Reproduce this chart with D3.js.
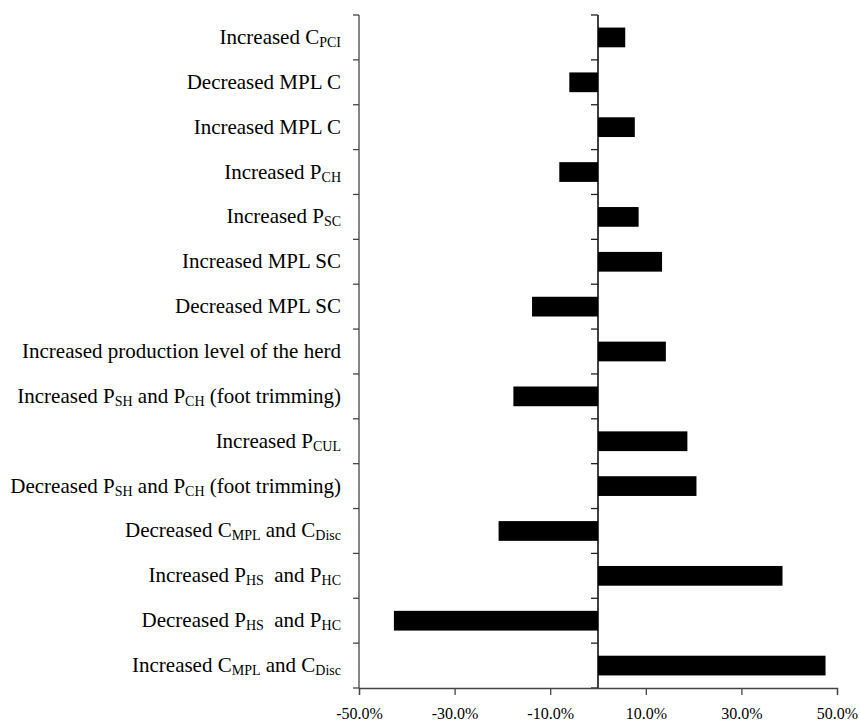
<!DOCTYPE html>
<html>
<head>
<meta charset="utf-8">
<script src="https://cdn.jsdelivr.net/npm/d3@7"></script>
<style>
  body { margin: 0; background: #fff; }
  text { white-space: pre; }
</style>
</head>
<body>
<div id="chart"></div>
<script>
// labels use _{...} for subscripts
const categories = [
  "Increased C_{PCI}",
  "Decreased MPL C",
  "Increased MPL C",
  "Increased P_{CH}",
  "Increased P_{SC}",
  "Increased MPL SC",
  "Decreased MPL SC",
  "Increased production level of the herd",
  "Increased P_{SH} and P_{CH} (foot trimming)",
  "Increased P_{CUL}",
  "Decreased P_{SH} and P_{CH} (foot trimming)",
  "Decreased C_{MPL} and C_{Disc}",
  "Increased P_{HS}  and P_{HC}",
  "Decreased P_{HS}  and P_{HC}",
  "Increased C_{MPL} and C_{Disc}"
];
const values = [5.7, -6.0, 7.7, -8.1, 8.5, 13.4, -13.8, 14.2, -17.7, 18.7, 20.6, -20.8, 38.6, -42.7, 47.6];
const xTicks = [-50, -30, -10, 10, 30, 50];

const FONT = "Liberation Serif, DejaVu Serif, serif";
const width = 860, height = 721;
const margin = { top: 15, right: 23, bottom: 33, left: 359 };

const svg = d3.select("#chart").append("svg")
  .attr("width", width).attr("height", height)
  .style("display", "block");

const x = d3.scaleLinear().domain([-50, 50]).range([margin.left, width - margin.right]);
const y = d3.scaleBand().domain(categories).range([margin.top, height - margin.bottom]).padding(0);
const barH = y.bandwidth() * 0.44;
const boundaries = d3.range(categories.length + 1).map((i) => margin.top + i * y.step());

// bars
svg.append("g")
  .selectAll("rect")
  .data(values)
  .join("rect")
  .attr("x", (v) => x(Math.min(0, v)))
  .attr("y", (v, i) => y(categories[i]) + (y.bandwidth() - barH) / 2)
  .attr("width", (v) => Math.abs(x(v) - x(0)))
  .attr("height", barH)
  .attr("fill", "#000");

// left axis with ticks at band boundaries
const left = svg.append("g");
left.append("line")
  .attr("x1", margin.left).attr("x2", margin.left)
  .attr("y1", boundaries[0]).attr("y2", boundaries[boundaries.length - 1])
  .attr("stroke", "#444").attr("stroke-width", 1.3);
left.selectAll(".tk").data(boundaries).join("line")
  .attr("x1", margin.left - 6).attr("x2", margin.left)
  .attr("y1", (d) => d).attr("y2", (d) => d)
  .attr("stroke", "#444").attr("stroke-width", 1.3);

// zero axis
const zero = svg.append("g");
zero.append("line")
  .attr("x1", x(0)).attr("x2", x(0))
  .attr("y1", boundaries[0]).attr("y2", boundaries[boundaries.length - 1])
  .attr("stroke", "#000").attr("stroke-width", 1.5);
zero.selectAll(".tk").data(boundaries).join("line")
  .attr("x1", x(0) - 7).attr("x2", x(0))
  .attr("y1", (d) => d).attr("y2", (d) => d)
  .attr("stroke", "#222").attr("stroke-width", 1.3);

// bottom axis
const bottom = svg.append("g")
  .attr("transform", `translate(0,${height - margin.bottom})`)
  .call(d3.axisBottom(x).tickValues(xTicks).tickSize(7).tickPadding(13)
    .tickFormat((d) => d.toFixed(1) + "%"));
bottom.attr("font-family", FONT).attr("font-size", 16);
bottom.select(".domain").attr("stroke", "#444").attr("stroke-width", 1.3);
bottom.selectAll(".tick line").attr("stroke", "#444").attr("stroke-width", 1.3);
bottom.selectAll(".tick text")
  .attr("fill", "#000")
  .attr("font-family", FONT)
  .attr("font-size", 16);

// category labels with subscripts
const labels = svg.append("g")
  .attr("font-family", FONT)
  .attr("font-size", 21)
  .attr("text-anchor", "end");
categories.forEach((c) => {
  const t = labels.append("text")
    .attr("x", margin.left - 18)
    .attr("y", y(c) + y.bandwidth() / 2 + 6.5)
    .attr("font-family", FONT)
    .attr("font-size", 21);
  const parts = c.split(/(_\{[^}]*\})/).filter((p) => p.length);
  let shifted = false;
  parts.forEach((p) => {
    if (p.startsWith("_{")) {
      t.append("tspan").attr("font-size", 14).attr("dy", 3).text(p.slice(2, -1));
      shifted = true;
    } else {
      const s = t.append("tspan").attr("font-size", 21).text(p);
      if (shifted) s.attr("dy", -3);
      shifted = false;
    }
  });
});
</script>
</body>
</html>
